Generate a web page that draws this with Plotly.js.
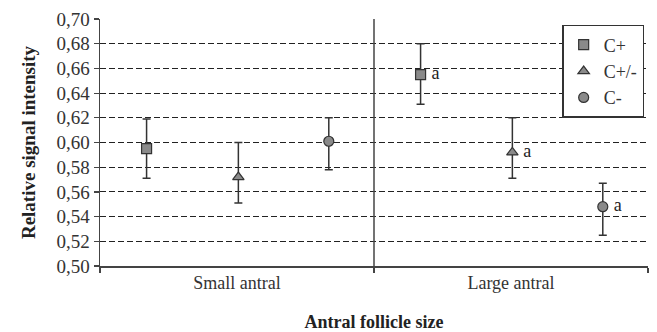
<!DOCTYPE html>
<html><head><meta charset="utf-8">
<script src="https://cdn.plot.ly/plotly-3.0.1.min.js"></script>
<style>body{margin:0;background:#fff}#chart{width:657px;height:332px}</style>
</head><body><div id="chart"></div>
<script>
const categories = ['Small antral', 'Large antral'];
const seriesNames = ['C+', 'C+/-', 'C-'];
const cPlus      = [0.595, 0.655];
const cPlusErrUp = [0.024, 0.025];
const cPlusErrDn = [0.024, 0.024];
const cPM        = [0.572, 0.592];
const cPMErrUp   = [0.028, 0.028];
const cPMErrDn   = [0.021, 0.021];
const cMinus     = [0.601, 0.548];
const cMinusErrUp= [0.019, 0.019];
const cMinusErrDn= [0.023, 0.023];
const sigLabels  = ['', 'a'];
const yTicks = [0.50,0.52,0.54,0.56,0.58,0.60,0.62,0.64,0.66,0.68,0.70];

const values = [cPlus, cPM, cMinus];
const errUp = [cPlusErrUp, cPMErrUp, cMinusErrUp];
const errDn = [cPlusErrDn, cPMErrDn, cMinusErrDn];
const symbols = ['square', 'triangle-up', 'circle'];
const offsets = [0.17, 0.505, 0.835];
const serif = 'Liberation Serif';

const traces = values.map((v, s) => ({
  type: 'scatter',
  mode: 'markers+text',
  name: seriesNames[s],
  x: categories.map((c, i) => i + offsets[s]),
  y: v,
  text: sigLabels,
  texttemplate: '\u2009%{text}',
  textposition: 'middle right',
  textfont: {family: serif, size: 18, color: '#222'},
  marker: {symbol: symbols[s], size: 10, color: '#8a8a8a', line: {color: '#333', width: 1.2}},
  error_y: {type: 'data', symmetric: false, array: errUp[s], arrayminus: errDn[s],
            color: '#333', thickness: 1.5, width: 4},
  cliponaxis: false
}));

const layout = {
  width: 657, height: 332,
  margin: {l: 100, r: 9, t: 19, b: 66},
  paper_bgcolor: '#fff', plot_bgcolor: '#fff',
  separators: ', ',
  font: {family: serif, color: '#333'},
  showlegend: true,
  legend: {x: 0.993, xanchor: 'right', y: 0.976, yanchor: 'top',
           bordercolor: '#333', borderwidth: 1.5, bgcolor: '#fff',
           itemwidth: 30,
           font: {family: serif, size: 18, color: '#333'}},
  xaxis: {range: [0, 2], tickvals: [0.5, 1.5], ticktext: categories,
          ticks: '', showgrid: false, zeroline: false,
          showline: true, linecolor: '#444', linewidth: 1.5,
          tickfont: {family: serif, size: 18, color: '#333'},
          minor: {tickvals: [0, 1, 2], ticks: 'outside', ticklen: 5, tickcolor: '#444', tickwidth: 1.5, showgrid: false},
          title: {text: '<b>Antral follicle size</b>', font: {family: serif, size: 18, color: '#222'}, standoff: 24}},
  yaxis: {range: [0.50, 0.70], tickvals: yTicks, tickformat: '.2f',
          ticks: 'outside', ticklen: 5, tickcolor: '#444', tickwidth: 1.2,
          showgrid: true, gridcolor: '#222', griddash: '6px,3px', gridwidth: 1,
          zeroline: false, showline: true, linecolor: '#444', linewidth: 1.5,
          tickfont: {family: serif, size: 19, color: '#333'},
          title: {text: '<b>Relative signal intensity</b>', font: {family: serif, size: 19, color: '#222'}, standoff: 16}},
  shapes: [{type: 'line', xref: 'x', yref: 'paper', x0: 1, x1: 1, y0: 0, y1: 1,
            line: {color: '#444', width: 1.5}}]
};

Plotly.newPlot('chart', traces, layout, {displayModeBar: false, staticPlot: true});
</script></body></html>
